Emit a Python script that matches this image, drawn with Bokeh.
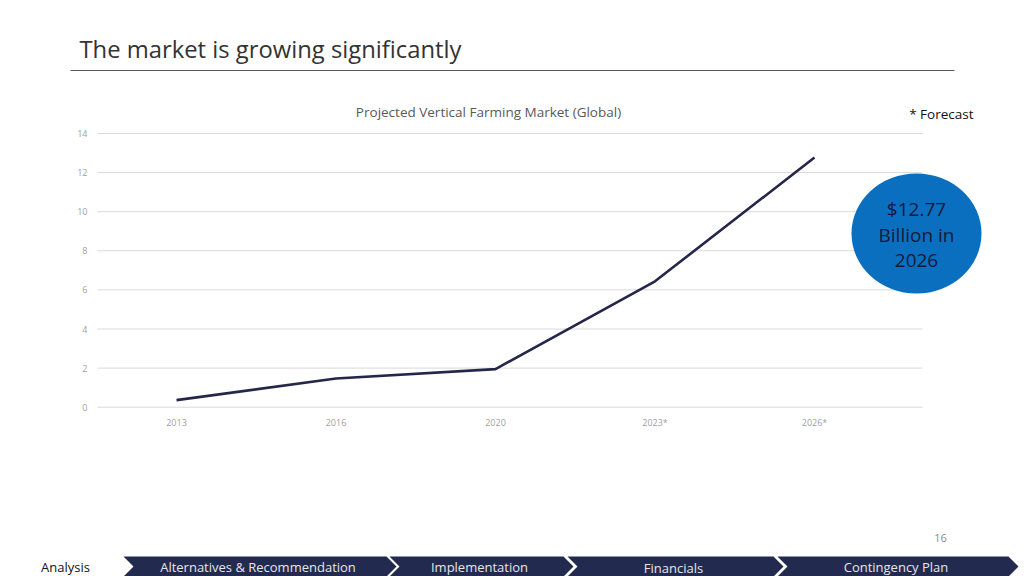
from bokeh.plotting import figure
from bokeh.models import Range1d
from bokeh.core.properties import value
from bokeh.embed import file_html
from bokeh.resources import INLINE

# ---- data ----
years = ["2013", "2016", "2020", "2023*", "2026*"]
market = [0.36, 1.47, 1.95, 6.44, 12.77]
y_ticks = [0, 2, 4, 6, 8, 10, 12, 14]
page_title = "The market is growing significantly"
chart_title = "Projected Vertical Farming Market (Global)"
forecast_note = "* Forecast"
callout_lines = ["$12.77", "Billion in", "2026"]
nav_first = "Analysis"
nav_steps = ["Alternatives & Recommendation", "Implementation", "Financials", "Contingency Plan"]
page_number = "16"

FONT = value("Open Sans")
W, H = 1024, 576
OFF = 0  # page offset of the canvas

# chart geometry (page pixels)
X0_PX, X_STEP = 176.0, 159.5
Y0_PX, Y_UNIT = 406.7, 19.55

x_lo = (OFF - X0_PX) / X_STEP
x_hi = (OFF + W - X0_PX) / X_STEP
y_hi = (Y0_PX - OFF) / Y_UNIT
y_lo = (Y0_PX - (OFF + H)) / Y_UNIT

p = figure(width=W, height=H, output_backend="svg", toolbar_location=None,
           x_range=Range1d(x_lo, x_hi), y_range=Range1d(y_lo, y_hi),
           x_axis_location=None, y_axis_location=None, min_border=0,
           outline_line_color=None, background_fill_color="white",
           border_fill_color="white")
p.grid.visible = False
p.extra_x_ranges = {"px": Range1d(OFF, OFF + W)}
p.extra_y_ranges = {"px": Range1d(OFF + H, OFF)}

idx = list(range(len(years)))

# gridlines
p.segment(x0=[97] * len(y_ticks), x1=[922] * len(y_ticks), y0=y_ticks, y1=y_ticks,
          x_range_name="px", line_color="#d9d9d9", line_width=1)
# y tick labels
p.text(x=[87] * len(y_ticks), y=y_ticks, text=[str(t) for t in y_ticks],
       x_range_name="px", text_align="right", text_baseline="middle",
       text_font=FONT, text_font_size="9px", text_color="#a0a0a0")
# x tick labels
p.text(x=idx, y=[422] * len(years), text=years, y_range_name="px",
       text_align="center", text_baseline="middle",
       text_font=FONT, text_font_size="9px", text_color="#a0a0a0")

# data line
p.line(x=idx, y=market, line_color="#25274a", line_width=2.6, line_join="round")

# chart title & forecast note
p.text(x=[488], y=[111], text=[chart_title], x_range_name="px", y_range_name="px",
       text_align="center", text_baseline="middle", text_font=FONT,
       text_font_size="13.5px", text_color="#595959")
p.text(x=[973], y=[113], text=[forecast_note], x_range_name="px", y_range_name="px",
       text_align="right", text_baseline="middle", text_font=FONT,
       text_font_size="13.5px", text_color="#111111")

# page title + rule
p.text(x=[79], y=[48], text=[page_title], x_range_name="px", y_range_name="px",
       text_align="left", text_baseline="middle", text_font=FONT,
       text_font_size="23.8px", text_color="#333333")
p.segment(x0=[70], x1=[954], y0=[70], y1=[70], x_range_name="px", y_range_name="px",
          line_color="#595959", line_width=1)

# callout bubble
p.ellipse(x=[916], y=[233], width=[130], height=[120], x_range_name="px",
          y_range_name="px", fill_color="#0b6fbf", line_color=None)
p.text(x=[916] * 3, y=[208, 234, 260], text=callout_lines, x_range_name="px",
       y_range_name="px", text_align="center", text_baseline="middle",
       text_font=FONT, text_font_size="19px", text_color="#16193a")

# page number
p.text(x=[940], y=[537], text=[page_number], x_range_name="px", y_range_name="px",
       text_align="center", text_baseline="middle", text_font=FONT,
       text_font_size="11px", text_color="#8c8c8c")

# nav bar chevrons
bounds = [(123, 386), (389, 563), (567, 773), (777, 1008)]
top, bot, mid, d = 556, 576, 566, 10
xs, ys = [], []
for (l, r) in bounds:
    xs.append([l, r, r + d, r, l, l + d])
    ys.append([top, top, mid, bot, bot, mid])
p.patches(xs=xs, ys=ys, x_range_name="px", y_range_name="px",
          fill_color="#222a50", line_color=None)
centers = [(l + r) / 2 + 3 for (l, r) in bounds]
p.text(x=centers, y=[566, 566, 567, 566], text=nav_steps, x_range_name="px",
       y_range_name="px", text_align="center", text_baseline="middle",
       text_font=FONT, text_font_size="13px", text_color="#e6e6e6")
p.text(x=[65], y=[566], text=[nav_first], x_range_name="px", y_range_name="px",
       text_align="center", text_baseline="middle", text_font=FONT,
       text_font_size="13px", text_color="#111111")

open("out.html", "w").write(file_html(p, INLINE))
